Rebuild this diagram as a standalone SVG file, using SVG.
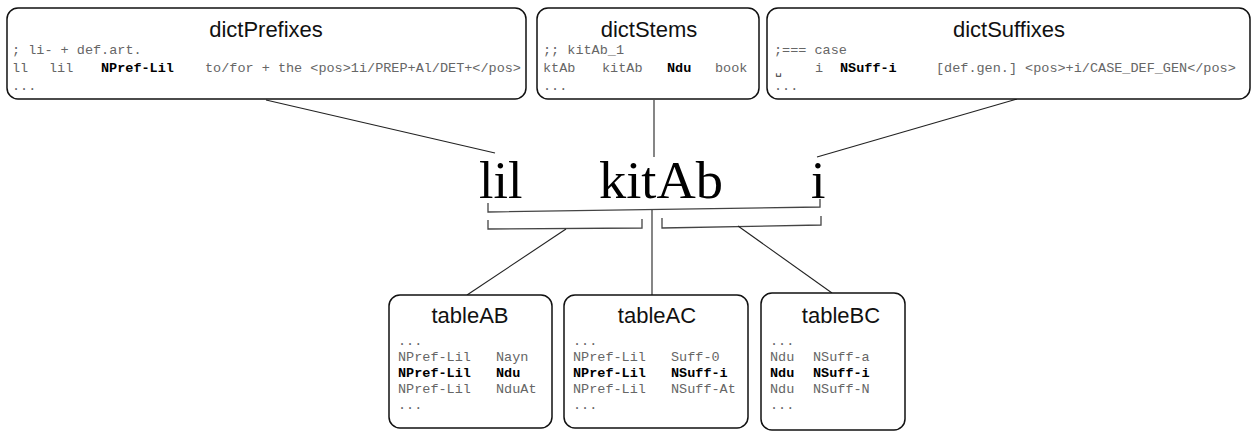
<svg xmlns="http://www.w3.org/2000/svg" width="1253" height="431" viewBox="0 0 1253 431">
<style>
.box{fill:#fff;stroke:#111;stroke-width:1.5}
.title{font-family:"Liberation Sans",Arial,sans-serif;font-size:22px;fill:#111;text-anchor:middle}
.m{font-family:"Liberation Mono","Courier New",monospace;font-size:13.5px;fill:#666}
.b{font-family:"Liberation Mono","Courier New",monospace;font-size:13.5px;fill:#000;font-weight:bold}
.word{font-family:"Liberation Serif","Times New Roman",serif;font-size:52px;fill:#000}
.ln{fill:none;stroke:#222;stroke-width:1.1}
.br{fill:none;stroke:#444;stroke-width:1.3}
</style>
<rect width="1253" height="431" fill="#fff"/>

<g id="connectors">
  <line class="ln" x1="266" y1="100" x2="495" y2="153"/>
  <line class="ln" x1="654" y1="100" x2="654" y2="157"/>
  <line class="ln" x1="1017" y1="99" x2="817" y2="157"/>
  <path class="br" d="M488,203 L488,212 L820,207 L820,199"/>
  <line class="ln" x1="652" y1="210" x2="652" y2="295"/>
  <path class="br" d="M488,220 L488,229 L642,228 L642,219"/>
  <line class="ln" x1="566" y1="229" x2="467" y2="295"/>
  <path class="br" d="M662,218 L662,228 L821,225 L821,216"/>
  <line class="ln" x1="738" y1="226" x2="832" y2="293"/>
</g>

<g id="dictPrefixes">
  <rect class="box" x="7" y="8" width="519" height="91" rx="11"/>
  <text class="title" x="266" y="37">dictPrefixes</text>
  <text class="m" x="12" y="54">; li- + def.art.</text>
  <text class="m" x="12" y="72">ll</text>
  <text class="m" x="49" y="72">lil</text>
  <text class="b" x="101" y="72">NPref-Lil</text>
  <text class="m" x="205" y="72">to/for + the &lt;pos&gt;1i/PREP+Al/DET+&lt;/pos&gt;</text>
  <text class="m" x="12" y="90">...</text>
</g>

<g id="dictStems">
  <rect class="box" x="537" y="8" width="222" height="91" rx="11"/>
  <text class="title" x="649" y="37">dictStems</text>
  <text class="m" x="543" y="54">;; kitAb_1</text>
  <text class="m" x="543" y="72">ktAb</text>
  <text class="m" x="602" y="72">kitAb</text>
  <text class="b" x="667" y="72">Ndu</text>
  <text class="m" x="715" y="72">book</text>
  <text class="m" x="543" y="90">...</text>
</g>

<g id="dictSuffixes">
  <rect class="box" x="767" y="8" width="483" height="91" rx="11"/>
  <text class="title" x="1009" y="37">dictSuffixes</text>
  <text class="m" x="774" y="54">;=== case</text>
  <text x="775" y="74" style="font-family:'DejaVu Sans Mono',monospace;font-size:11px;fill:#333">␣</text>
  <text class="m" x="815" y="72">i</text>
  <text class="b" x="840" y="72">NSuff-i</text>
  <text class="m" x="936" y="72">[def.gen.] &lt;pos&gt;+i/CASE_DEF_GEN&lt;/pos&gt;</text>
  <text class="m" x="774" y="90">...</text>
</g>

<g id="word">
  <text class="word" x="479" y="198">lil</text>
  <text class="word" x="599" y="198" textLength="124" lengthAdjust="spacingAndGlyphs">kitAb</text>
  <text class="word" x="811" y="198">i</text>
</g>

<g id="tableAB">
  <rect class="box" x="389" y="295" width="163" height="133" rx="11"/>
  <text class="title" x="470" y="323">tableAB</text>
  <text class="m" x="398" y="345">...</text>
  <text class="m" x="398" y="361">NPref-Lil</text>
  <text class="m" x="496" y="361">Nayn</text>
  <text class="b" x="398" y="377">NPref-Lil</text>
  <text class="b" x="496" y="377">Ndu</text>
  <text class="m" x="398" y="393">NPref-Lil</text>
  <text class="m" x="496" y="393">NduAt</text>
  <text class="m" x="398" y="409">...</text>
</g>

<g id="tableAC">
  <rect class="box" x="564" y="295" width="184" height="133" rx="11"/>
  <text class="title" x="657" y="323">tableAC</text>
  <text class="m" x="573" y="345">...</text>
  <text class="m" x="573" y="361">NPref-Lil</text>
  <text class="m" x="671" y="361">Suff-0</text>
  <text class="b" x="573" y="377">NPref-Lil</text>
  <text class="b" x="671" y="377">NSuff-i</text>
  <text class="m" x="573" y="393">NPref-Lil</text>
  <text class="m" x="671" y="393">NSuff-At</text>
  <text class="m" x="573" y="409">...</text>
</g>

<g id="tableBC">
  <rect class="box" x="761" y="293" width="144" height="137" rx="11"/>
  <text class="title" x="841" y="323">tableBC</text>
  <text class="m" x="770" y="345">...</text>
  <text class="m" x="770" y="361">Ndu</text>
  <text class="m" x="813" y="361">NSuff-a</text>
  <text class="b" x="770" y="377">Ndu</text>
  <text class="b" x="813" y="377">NSuff-i</text>
  <text class="m" x="770" y="393">Ndu</text>
  <text class="m" x="813" y="393">NSuff-N</text>
  <text class="m" x="770" y="409">...</text>
</g>
</svg>
